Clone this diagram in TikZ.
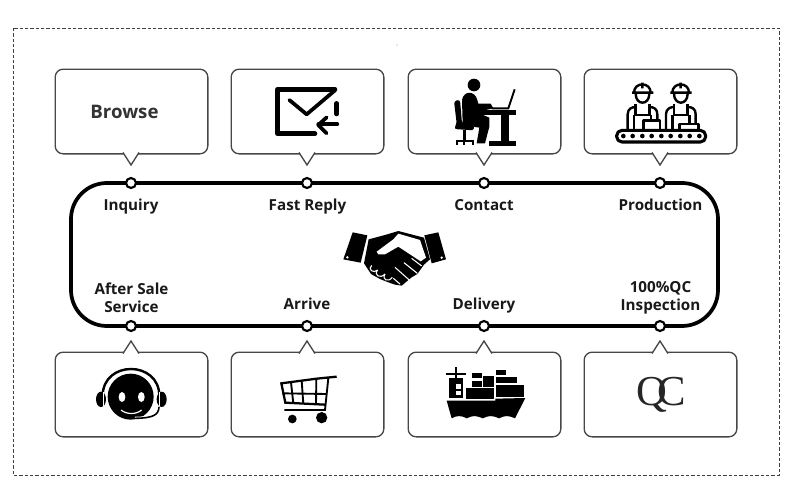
\documentclass[tikz,border=0pt]{standalone}
\usepackage{fontspec}
\setmainfont{Open Sans}
\newfontfamily\qcfont{Liberation Serif}

\begin{document}
\begin{tikzpicture}[
	  x=0.75pt,
	  y=-0.75pt,
	  callbox/.style={draw=black!72,line width=1pt,rounded corners=6pt,minimum width=114.5pt,minimum height=63.5pt,inner sep=0pt},
	  calltip/.style={draw=black!72,line width=1pt,fill=white},
	  stopdot/.style={circle,draw=black,line width=1.6pt,fill=white,minimum size=7.5pt,inner sep=0pt},
	  steplabel/.style={font=\bfseries\fontsize{11.4pt}{13.5pt}\selectfont,text=black!90,align=center,inner sep=0pt},
	  oneline/.style={steplabel,anchor=base},
	  icon/.style={shift={#1},x=0.25pt,y=-0.25pt},
	]

	\useasboundingbox (0,0) rectangle (790,504);
	\fill [white] (0,0) rectangle (790,504);
	\draw [dashed,black!75,line width=0.5pt,dash pattern=on 2.5pt off 1.5pt] (13,28) rectangle (779,475);
	\fill [black!40] (397,45) circle [radius=0.7];

	% boxes above the line
	\node [callbox,font=\bfseries\fontsize{14pt}{16pt}\selectfont,text=black!80] (browse) at (131.5,111.5) {Browse\hspace*{10.5pt}};
	\node [callbox] (reply) at (307.5,111.5) {};
	\node [callbox] (contact) at (484.5,111.5) {};
	\node [callbox] (production) at (660.5,111.5) {};
	\draw [calltip] (123,152.5) -- (131,165) -- (139,152.5);
	\draw [calltip] (299,152.5) -- (307,165) -- (315,152.5);
	\draw [calltip] (476,152.5) -- (484,165) -- (492,152.5);
	\draw [calltip] (652,152.5) -- (660,165) -- (668,152.5);

	% boxes below the line
	\node [callbox] (service) at (131.5,394.5) {};
	\node [callbox] (arrive) at (307.5,394.5) {};
	\node [callbox] (delivery) at (484.5,394.5) {};
	\node [callbox,text=black!85,font=\qcfont\fontsize{32pt}{32pt}\selectfont] (qc) at (660.5,394.5) {\hspace*{1.5pt}\raisebox{-4.5pt}{Q\kern-7.5pt C}};
	\draw [calltip] (123,353.5) -- (131,341) -- (139,353.5);
	\draw [calltip] (299,353.5) -- (307,341) -- (315,353.5);
	\draw [calltip] (476,353.5) -- (484,341) -- (492,353.5);
	\draw [calltip] (652,353.5) -- (660,341) -- (668,353.5);

	% the loop and its stops
	\draw [line width=2.8pt,rounded corners=27pt] (71,183) rectangle (718,326);
	\node [stopdot] (inquirydot) at (131,183) {};
	\node [stopdot] (replydot) at (307,183) {};
	\node [stopdot] (contactdot) at (484,183) {};
	\node [stopdot] (productiondot) at (660,183) {};
	\node [stopdot] (servicedot) at (131,326) {};
	\node [stopdot] (arrivedot) at (307,326) {};
	\node [stopdot] (deliverydot) at (484,326) {};
	\node [stopdot] (qcdot) at (660,326) {};

	\node [oneline] (inquirytext) at (131,210.5) {Inquiry};
	\node [oneline] (replytext) at (307.5,210.5) {Fast Reply};
	\node [oneline] (contacttext) at (484,210.5) {Contact};
	\node [oneline] (productiontext) at (660.5,210.5) {Production};
	\node [steplabel] (servicetext) at (131.5,298) {After Sale\\Service};
	\node [oneline] (arrivetext) at (307,309) {Arrive};
	\node [oneline] (deliverytext) at (484,309) {Delivery};
	\node [steplabel] (qctext) at (660.5,298) {100\%QC\\Inspection};

	% envelope
	\begin{scope}[icon={(40,55)},line width=3.4pt,line cap=round,line join=round]
	\draw (885,103) -- (712,103) -- (712,236) -- (825,236);
	\draw [line width=2.8pt] (748,135) -- (800,178) -- (885,106);
	\draw (890,145) -- (890,177);
	\draw [line width=2.8pt] (892,208) -- (835,208);
	\draw [line width=2.8pt] (860,187) -- (835,210) -- (860,235);
	\end{scope}

	% person at a desk
	\begin{scope}[icon={(400,55)}]
	\fill (222,90) circle [radius=19];
	\fill (186,135) .. controls (191,106) and (225,106) .. (232,135) -- (235,146) -- (272,146) -- (280,160) -- (235,170) -- (226,170) -- (268,188) -- (268,215) -- (255,265) -- (230,265) -- (238,218) -- (200,212) -- (188,205) -- cycle;
	\fill [rounded corners=2pt] (162,138) -- (180,134) -- (186,205) -- (222,210) -- (222,226) -- (162,222) -- (170,205) -- cycle;
	\fill (189,224) rectangle (198,255);
	\draw [line width=1.6pt] (170,269) -- (170,258) -- (218,258) -- (218,269);
	\draw [line width=1.6pt] (193,256) -- (193,269);
	\fill (228,165) rectangle (348,179);
	\fill (304,179) rectangle (327,262);
	\fill (268,259) rectangle (348,272);
	\draw [line width=1.4pt] (344,103) -- (325,160) -- (275,160);
	\end{scope}

	% two workers at a conveyor
	\begin{scope}[icon={(400,55)},line width=1.8pt,line join=round]
	\draw [line width=2.3pt,rounded corners=4pt] (650,226) rectangle (917,261);
	\fill (670,243) circle [radius=7] (698,243) circle [radius=7] (727,243) circle [radius=7] (755,243) circle [radius=7] (784,243) circle [radius=7] (812,243) circle [radius=7] (841,243) circle [radius=7] (869,243) circle [radius=7] (898,243) circle [radius=7];
	\draw (683,226) -- (683,178) .. controls (683,162) and (695,156) .. (707,156) (748,156) .. controls (762,156) and (772,162) .. (772,178) -- (772,197);
	\draw (702,226) -- (702,180) (753,180) -- (753,197);
	\draw (696,113) -- (760,113) (702,113) .. controls (702,80) and (752,80) .. (752,113) (727,83) -- (727,100);
	\draw (707,116) .. controls (707,152) and (748,152) .. (748,116);
	\draw (707,148) -- (707,180) -- (748,180) -- (748,148);
	\draw (730,197) rectangle (780,226);
	\draw (798,226) -- (798,178) .. controls (798,162) and (810,156) .. (822,156) (863,156) .. controls (877,156) and (887,162) .. (887,178) -- (887,205);
	\draw (817,226) -- (817,180) (868,180) -- (868,205);
	\draw (811,113) -- (875,113) (817,113) .. controls (817,80) and (867,80) .. (867,113) (842,83) -- (842,100);
	\draw (822,116) .. controls (822,152) and (863,152) .. (863,116);
	\draw (822,148) -- (822,180) -- (863,180) -- (863,148);
	\draw (838,207) rectangle (895,226);
	\end{scope}

	% headset face
	\begin{scope}[icon={(40,270)}]
	\fill (272,380) circle [radius=69];
	\draw [line width=1.8pt] (188,378) .. controls (188,270) and (358,270) .. (358,378);
	\fill (183,388) ellipse [x radius=15,y radius=23];
	\fill (365,388) ellipse [x radius=15,y radius=23];
	\draw [white,line width=0.4pt] (191,367) -- (191,409) (357,367) -- (357,409);
	\fill [white] (246,381) ellipse [x radius=10,y radius=15];
	\fill [white] (304,381) ellipse [x radius=10,y radius=15];
	\draw [white,line width=0.9pt] (243,420) .. controls (260,434) and (288,434) .. (305,420);
	\draw [white,line width=2.4pt] (357,412) .. controls (355,435) and (340,444) .. (285,445);
	\draw [line width=1.2pt,line cap=round] (357,412) .. controls (355,435) and (340,444) .. (285,445);
	\end{scope}

	% shopping cart
	\begin{scope}[icon={(40,270)},line width=1.4pt]
	\draw [line width=1.7pt] (890,320) -- (830,326) -- (724,340) -- (736,398) -- (855,404);
	\draw (865,324) -- (855,420) -- (733,420);
	\draw (727,370) -- (860,372);
	\draw (753,337) -- (760,400) (785,332) -- (790,402) (829,326) -- (828,404);
	\fill (757,447) circle [radius=13];
	\fill (845,443) circle [radius=17];
	\end{scope}

	% container ship
	\begin{scope}[icon={(400,270)}]
	\fill (140,392) -- (286,392) -- (286,386) -- (376,384) -- (345,445) .. controls (325,436) and (315,436) .. (297,445) .. controls (277,436) and (267,436) .. (248,445) .. controls (228,436) and (218,436) .. (200,445) .. controls (185,436) and (170,436) .. (155,445) -- cycle;
	\fill (148,325) rectangle (190,385);
	\fill (164,290) rectangle (171,325);
	\fill (137,310) rectangle (197,316);
	\fill [white] (168,342) rectangle (182,358);
	\fill [white] (168,362) rectangle (182,375);
	\fill (198,355) rectangle (283,387);
	\fill (215,332) rectangle (245,350);
	\fill (215,308) rectangle (245,325);
	\fill (250,318) rectangle (283,350);
	\fill (288,345) rectangle (373,380);
	\fill (288,322) rectangle (352,340);
	\fill (288,300) rectangle (318,316);
	\end{scope}

	% handshake
	\begin{scope}[icon={(330,220)}]
	\fill (68,37) -- (112,46) -- (92,128) -- (40,118) -- cycle;
	\fill (283,46) -- (325,37) -- (348,118) -- (305,130) -- cycle;
	\fill (116,58) -- (165,45) -- (205,33) -- (282,53) -- (300,118) -- (282,134) -- (262,162) -- (245,172) -- (215,197) -- (195,194) -- (175,187) -- (150,177) -- (123,162) -- (102,130) -- cycle;
	\fill [white] (140,95) -- (190,58) -- (205,41) -- (270,60) -- (288,113) -- (272,124) -- (205,80) -- (165,103) -- (145,103) -- cycle;
	\fill [white] (52,112) circle [radius=4];
	\fill [white] (335,113) circle [radius=4];
	\draw [white,line width=0.8pt] (125,136) .. controls (112,148) and (130,162) .. (143,150) (143,150) .. controls (130,165) and (150,178) .. (165,162) (165,162) .. controls (155,180) and (175,188) .. (187,172);
	\draw [white,line width=0.8pt] (195,142) -- (240,182) (222,128) -- (262,160) (245,115) -- (275,138) (190,175) -- (210,192);
	\end{scope}
	\end{tikzpicture}
\end{document}
